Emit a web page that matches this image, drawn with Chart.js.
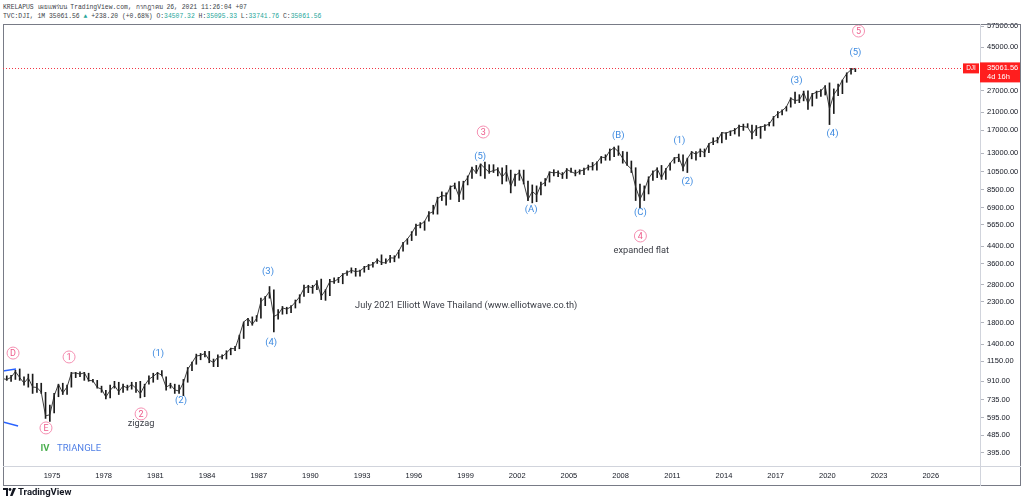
<!DOCTYPE html>
<html lang="th">
<head>
  <meta charset="UTF-8" />
  <title>DJI Elliott Wave</title>
  <script src="https://cdn.jsdelivr.net/npm/chart.js"></script>
  <style>
    body { margin: 0; background: #fff; width: 1024px; height: 502px; overflow: hidden; position: relative; }
    .hdr { position: absolute; left: 3px; font-family: "Liberation Mono", "DejaVu Sans Mono", monospace; font-size: 6.4px; color: #3c3f48; white-space: nowrap; }
    .up { color: #26a69a; }
    #wrap { position: absolute; left: 0; top: 0; width: 1024px; height: 502px; }
    .brand { position: absolute; left: 3px; top: 486px; font-family: Roboto, "Liberation Sans", sans-serif; font-weight: bold; font-size: 9.5px; color: #131722; display: flex; align-items: center; gap: 2px; }
  </style>
</head>
<body>
  <div class="hdr" style="top:2px">KRELAPUS เผยแพร่บน TradingView.com, กรกฎาคม 26, 2021 11:26:04 +07</div>
  <div class="hdr" style="top:13px">TVC:DJI, 1M 35061.56 <span class="up">▲</span> +238.20 (+0.68%) O:<span class="up">34507.32</span> H:<span class="up">35095.33</span> L:<span class="up">33741.76</span> C:<span class="up">35061.56</span></div>
  <div id="wrap"><canvas id="chart" width="1024" height="502"></canvas></div>
  <div class="brand">
    <svg width="13" height="8" viewBox="0 0 13 8"><path d="M0 0h5v8H3V2H0z" fill="#131722"/><circle cx="7" cy="1.5" r="1.4" fill="#131722"/><path d="M10 0h3L9.5 8H7z" fill="#131722"/></svg>
    <span>TradingView</span>
  </div>

  <script>
    // quarterly DJI bars, first entry = 1972 Q1
    const startYear = 1972;
    const lows = [
      890, 920, 910, 930,      920, 870, 850, 790,      800, 790, 590, 570,
      630, 760, 780, 780,      850, 950, 960, 920,      910, 900, 840, 800,
      740, 750, 840, 780,      800, 820, 830, 800,      750, 760, 880, 900,
      930, 970, 820, 840,      790, 790, 770, 900,      1030, 1110, 1170, 1210,
      1130, 1080, 1080, 1180,  1180, 1240, 1300, 1330,  1500, 1740, 1750, 1830,
      1900, 2200, 2400, 1620,  1880, 1990, 2000, 2030,  2140, 2270, 2450, 2560,
      2540, 2650, 2360, 2340,  2470, 2850, 2880, 2840,  3130, 3220, 3100, 3100,
      3250, 3350, 3450, 3600,  3550, 3600, 3640, 3670,  3830, 4150, 4500, 4700,
      5000, 5450, 5300, 5900,  6400, 6400, 7500, 7100,  7600, 8600, 7400, 7600,
      9000, 9700, 10300, 10000, 9700, 10300, 10400, 10000, 9100, 9400, 8200, 8900,
      9500, 9100, 7500, 7300,  7400, 8000, 8900, 9300,  10000, 9900, 9700, 9700,
      10400, 10000, 10200, 10150, 10700, 10700, 10700, 11600, 12000, 12000, 12500, 12700,
      11600, 11300, 10400, 7500, 6900, 7500, 8100, 9500, 9800, 9600, 9600, 10700,
      11600, 11800, 10600, 10400, 12200, 12000, 12500, 12500, 13100, 14400, 14700, 14700,
      15300, 16000, 16300, 15900, 17000, 17600, 15400, 16000, 15500, 17000, 17900, 17900,
      19700, 20400, 21300, 22300, 23300, 23500, 24000, 21700, 22600, 24700, 25300, 25700,
      18200, 20700, 25500, 26100, 29800, 32800, 33741.76
    ];
    const highs = [
      950, 970, 975, 1036,     1051, 960, 990, 990,     890, 890, 800, 690,
      790, 880, 890, 870,      1010, 1010, 1015, 1010,  1000, 930, 920, 860,
      820, 870, 910, 900,      880, 870, 900, 900,      910, 880, 970, 1000,
      1010, 1030, 960, 890,    880, 870, 930, 1070,     1140, 1250, 1260, 1290,
      1290, 1180, 1240, 1240,  1300, 1340, 1370, 1560,  1820, 1900, 1930, 1960,
      2400, 2450, 2750, 2650,  2100, 2180, 2160, 2200,  2350, 2500, 2800, 2790,
      2790, 2950, 3000, 2650,  2990, 3040, 3060, 3200,  3300, 3420, 3400, 3330,
      3480, 3560, 3650, 3800,  3980, 3800, 3960, 3940,  4200, 4600, 4800, 5220,
      5700, 5800, 5900, 6600,  7100, 7800, 8300, 8200,  8900, 9200, 9350, 9400,
      10000, 11100, 11300, 11500, 11750, 11400, 11400, 11000, 11000, 11300, 10700, 10200,
      10700, 10700, 9400, 9000, 8900, 9300, 9700, 10500, 10750, 10600, 10400, 10900,
      10950, 10700, 10750, 10950, 11350, 11700, 11800, 12550, 12800, 13700, 14000, 14200,
      13300, 13200, 11900, 11000, 9100, 8900, 9900, 10600, 11000, 11300, 10900, 11600,
      12400, 12900, 12800, 12300, 13300, 13300, 13700, 13700, 14600, 15600, 15700, 16600,
      16600, 16900, 17400, 18100, 18300, 18400, 18100, 18000, 17800, 18200, 18700, 20000,
      21200, 21600, 22500, 24900, 26600, 25800, 26900, 26950, 26200, 26900, 27400, 28700,
      29600, 27600, 29200, 30600, 33300, 35100, 35095.33
    ];
    const closes = [
      940, 929, 953, 1020,     951, 891, 947, 851,      847, 802, 608, 616,
      768, 879, 794, 852,      1000, 1003, 990, 1005,   919, 916, 847, 831,
      757, 819, 866, 805,      862, 842, 878, 839,      786, 868, 932, 964,
      1004, 977, 850, 875,     823, 812, 896, 1047,     1130, 1222, 1233, 1259,
      1165, 1133, 1207, 1212,  1267, 1336, 1329, 1547,  1819, 1893, 1768, 1896,
      2305, 2419, 2597, 1939,  1989, 2142, 2113, 2169,  2294, 2441, 2693, 2753,
      2707, 2881, 2453, 2634,  2914, 2907, 3017, 3169,  3236, 3319, 3272, 3301,
      3435, 3516, 3555, 3754,  3636, 3625, 3843, 3834,  4158, 4556, 4789, 5117,
      5587, 5655, 5882, 6448,  6584, 7673, 7945, 7908,  8800, 8952, 7843, 9181,
      9786, 10971, 10337, 11497, 10922, 10448, 10651, 10787, 9879, 10502, 8848, 10022,
      10404, 9243, 7592, 8342, 7992, 8985, 9275, 10454, 10358, 10435, 10080, 10783,
      10504, 10275, 10569, 10718, 11109, 11150, 11679, 12463, 12354, 13409, 13896, 13265,
      12263, 11350, 10851, 8776, 7609, 8447, 9712, 10428, 10857, 9774, 10788, 11578,
      12320, 12414, 10913, 12218, 13212, 12880, 13437, 13104, 14579, 14910, 15130, 16577,
      16458, 16827, 17043, 17823, 17776, 17620, 16285, 17425, 17685, 17930, 18308, 19763,
      20663, 21350, 22405, 24719, 24103, 24271, 26458, 23327, 25929, 26600, 26917, 28538,
      21917, 25813, 27782, 30606, 32982, 34503, 35061.56
    ];
    const lastPrice = 35061.56;

    const yearTicks = [1975, 1978, 1981, 1984, 1987, 1990, 1993, 1996, 1999, 2002, 2005, 2008, 2011, 2014, 2017, 2020, 2023, 2026];
    const priceTicks = [57500, 45000, 27000, 21000, 17000, 13000, 10500, 8500, 6900, 5650, 4400, 3600, 2800, 2300, 1800, 1400, 1150, 910, 735, 595, 485, 395];

    // triangle trend lines (year, price)
    const triUpper = [[1972.15, 1026], [1972.91, 1051]];
    const triLower = [[1972.15, 566], [1973.03, 540]];

    // wave labels: text, year, price
    const blueLabels = [
      ['(1)', 1981.16, 1252], ['(2)', 1982.49, 723], ['(3)', 1987.54, 3259], ['(4)', 1987.72, 1423],
      ['(5)', 1999.85, 12470], ['(A)', 2002.81, 6715], ['(B)', 2007.87, 15930], ['(C)', 2009.15, 6500],
      ['(1)', 2011.41, 15030], ['(2)', 2011.88, 9315], ['(3)', 2018.21, 30270], ['(4)', 2020.30, 16310],
      ['(5)', 2021.63, 41960]
    ];
    const circleLabels = [
      ['D', 1972.74, 1265], ['1', 1975.99, 1209], ['E', 1974.65, 528], ['2', 1980.17, 622],
      ['3', 2000.03, 16690], ['4', 2009.15, 4961], ['5', 2021.81, 54240]
    ];
    const noteLabels = [
      ['zigzag', 1980.17, 553], ['expanded flat', 2009.20, 4164],
      ['July 2021 Elliott Wave Thailand (www.elliotwave.co.th)', 1999.04, 2191]
    ];

    const qx = i => startYear + i * 0.25 + 0.125;
    const rangeData = lows.map((lo, i) => ({ x: qx(i), y: [lo, highs[i]] }));
    const closeData = closes.map((c, i) => ({ x: qx(i), y: c }));

    const frame = {
      id: 'frame',
      afterDraw(chart) {
        const { ctx, chartArea: a, scales: { y } } = chart;
        ctx.save();
        ctx.strokeStyle = '#787b86';
        ctx.lineWidth = 1;
        ctx.strokeRect(3.5, 24.5, 1017, 461);
        ctx.beginPath();
        ctx.moveTo(Math.round(a.right) + 0.5, 24); ctx.lineTo(Math.round(a.right) + 0.5, 486);
        ctx.moveTo(3, Math.round(a.bottom) + 0.5); ctx.lineTo(1021, Math.round(a.bottom) + 0.5);
        ctx.strokeStyle = '#d1d4dc';
        ctx.stroke();

        // last price line + labels
        const py = y.getPixelForValue(lastPrice);
        ctx.setLineDash([1, 2]);
        ctx.strokeStyle = '#f23645';
        ctx.beginPath();
        ctx.moveTo(a.left, Math.round(py) + 0.5); ctx.lineTo(a.right - 18, Math.round(py) + 0.5);
        ctx.stroke();
        ctx.setLineDash([]);
        ctx.fillStyle = '#ff1e1e';
        ctx.fillRect(a.right - 17, py - 5, 16, 10);
        ctx.fillRect(a.right, py - 6, 40, 20);
        ctx.fillStyle = '#fff';
        ctx.font = '6.5px "Liberation Sans", sans-serif';
        ctx.textBaseline = 'middle';
        ctx.textAlign = 'center';
        ctx.fillText('DJI', a.right - 9, py);
        ctx.textAlign = 'left';
        ctx.font = '7.5px "Liberation Sans Narrow", "Liberation Sans", sans-serif';
        ctx.fillText(lastPrice.toFixed(2), a.right + 7, py);
        ctx.fillText('4d 16h', a.right + 7, py + 8.5);
        ctx.restore();
      }
    };

    const annot = {
      id: 'annot',
      afterDatasetsDraw(chart) {
        const { ctx, scales: { x, y } } = chart;
        ctx.save();
        ctx.textAlign = 'center';
        ctx.textBaseline = 'middle';
        ctx.font = '9.5px Roboto, "Liberation Sans", sans-serif';
        ctx.fillStyle = '#3d8ae0';
        blueLabels.forEach(([t, xv, yv]) => ctx.fillText(t, x.getPixelForValue(xv), y.getPixelForValue(yv)));

        circleLabels.forEach(([t, xv, yv]) => {
          const px = x.getPixelForValue(xv), py = y.getPixelForValue(yv);
          ctx.beginPath();
          ctx.arc(px, py, 6, 0, Math.PI * 2);
          ctx.strokeStyle = '#f48fb1';
          ctx.lineWidth = 1;
          ctx.stroke();
          ctx.fillStyle = '#ee5a8a';
          ctx.font = '9px Roboto, "Liberation Sans", sans-serif';
          ctx.fillText(t, px, py + 0.5);
        });

        ctx.fillStyle = '#3a3d45';
        ctx.font = '9.2px Roboto, "Liberation Sans", sans-serif';
        noteLabels.forEach(([t, xv, yv]) => ctx.fillText(t, x.getPixelForValue(xv), y.getPixelForValue(yv)));

        const ty = y.getPixelForValue(413);
        ctx.font = 'bold 9.5px Roboto, "Liberation Sans", sans-serif';
        ctx.fillStyle = '#4caf50';
        ctx.fillText('IV', x.getPixelForValue(1974.59), ty);
        ctx.font = '9.5px Roboto, "Liberation Sans", sans-serif';
        ctx.fillStyle = '#4f7fe6';
        ctx.fillText('TRIANGLE', x.getPixelForValue(1976.57), ty);
        ctx.restore();
      }
    };

    const trendStyle = { type: 'line', borderColor: '#2962ff', borderWidth: 1.5, pointRadius: 0 };

    new Chart(document.getElementById('chart'), {
      data: {
        datasets: [
          { type: 'bar', data: rangeData, backgroundColor: '#1a1a1a', barThickness: 1, order: 2 },
          { type: 'line', data: closeData, borderColor: '#2a2a2a', borderWidth: 0.9, pointRadius: 0, tension: 0, order: 1 },
          { ...trendStyle, data: triUpper.map(([x, y]) => ({ x, y })) },
          { ...trendStyle, data: triLower.map(([x, y]) => ({ x, y })) }
        ]
      },
      options: {
        responsive: false,
        animation: false,
        layout: { padding: { left: 3, top: 24, right: 3, bottom: 16 } },
        plugins: { legend: { display: false }, tooltip: { enabled: false } },
        scales: {
          x: {
            type: 'linear', min: 1972.156, max: 2028.86, offset: false,
            afterBuildTicks: s => { s.ticks = yearTicks.map(v => ({ value: v })); },
            afterFit: s => { s.height = 20; },
            ticks: { callback: v => String(v), color: '#131722', maxRotation: 0, autoSkip: false, padding: 5,
                     font: { size: 7.5, family: '"Liberation Sans Narrow", "Liberation Sans", sans-serif' } },
            grid: { display: false, drawTicks: false },
            border: { display: false }
          },
          y: {
            type: 'logarithmic', position: 'right', min: 338.7, max: 58858,
            afterBuildTicks: s => { s.ticks = priceTicks.map(v => ({ value: v })); },
            afterFit: s => { s.width = 41; },
            ticks: { callback: v => Number(v).toFixed(2), color: '#131722', padding: 3, autoSkip: false,
                     font: { size: 7.5, family: '"Liberation Sans Narrow", "Liberation Sans", sans-serif' } },
            grid: { drawOnChartArea: false, tickLength: 4, color: '#b2b5be' },
            border: { display: false }
          }
        }
      },
      plugins: [annot, frame]
    });
  </script>
</body>
</html>
